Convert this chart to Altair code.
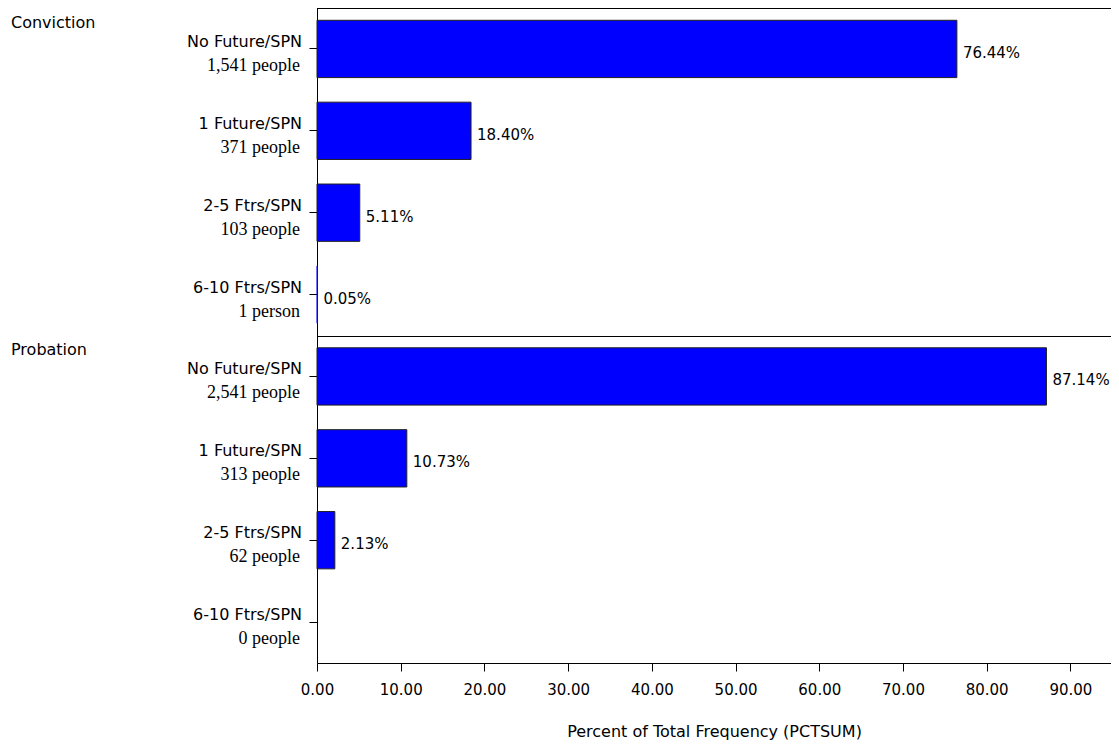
import altair as alt
import pandas as pd

# ---- data ----
groups = ["Conviction"] * 4 + ["Probation"] * 4
categories = ["No Future/SPN", "1 Future/SPN", "2-5 Ftrs/SPN", "6-10 Ftrs/SPN"] * 2
percents = [76.44, 18.40, 5.11, 0.05, 87.14, 10.73, 2.13, 0.00]
people = [1541, 371, 103, 1, 2541, 313, 62, 0]
x_ticks = [0, 10, 20, 30, 40, 50, 60, 70, 80, 90]

rows = []
for g, c, p, n in zip(groups, categories, percents, people):
    rows.append({
        "key": f"{g} | {c}",
        "group": g,
        "cat": c,
        "pct": p,
        "n": n,
        "count_label": f"{n:,} " + ("person" if n == 1 else "people"),
        "value_label": f"{p:.2f}%",
        "first": c == categories[0],
    })
df = pd.DataFrame(rows)
keys = list(df["key"])

W, H = 794, 655
XMAX = 94.85

SANS = "DejaVu Sans"
SERIF = "Liberation Serif"

y_enc = alt.Y(
    "key:N",
    sort=keys,
    scale=alt.Scale(paddingInner=0.3, paddingOuter=0.15),
    axis=alt.Axis(labels=False, title=None, domainColor="black", tickColor="black",
                  tickSize=8, domainWidth=1, tickWidth=1, grid=False),
)
x_scale = alt.Scale(domain=[0, XMAX], nice=False, zero=True)
x_axis = alt.Axis(
    values=x_ticks, format=".2f", title="Percent of Total Frequency (PCTSUM)",
    labelFont=SANS, labelFontSize=15, labelColor="black", labelPadding=11,
    labelFlush=False, labelOverlap=False,
    tickSize=8, tickColor="black", domainColor="black", grid=False,
    titleFont=SANS, titleFontSize=16, titleFontWeight="normal", titleColor="black",
    titleBaseline="alphabetic", titleY=73,
)

base = alt.Chart(df)

bars = base.transform_filter("datum.pct > 0").mark_bar(
    color="#0000FF", strokeWidth=1
).encode(
    x=alt.X("pct:Q", scale=x_scale, axis=x_axis),
    y=y_enc,
    stroke=alt.condition("datum.pct < 0.5", alt.value("#0000FF"), alt.value("#202020")),
)

values = base.transform_filter("datum.n > 0").mark_text(
    align="left", baseline="middle", dx=6, dy=4, font=SANS, fontSize=15, color="black"
).encode(
    x=alt.X("pct:Q", scale=x_scale, axis=x_axis),
    y=y_enc,
    text="value_label:N",
)

cat_line1 = base.mark_text(
    align="right", baseline="alphabetic", dy=-2, font=SANS, fontSize=16, color="black"
).encode(
    x=alt.value(-15),
    y=y_enc,
    text="cat:N",
)

cat_line2 = base.mark_text(
    align="right", baseline="alphabetic", dy=22, font=SERIF, fontSize=18, color="black"
).encode(
    x=alt.value(-17),
    y=y_enc,
    text="count_label:N",
)

group_labels = base.transform_filter("datum.first").mark_text(
    align="left", baseline="alphabetic", dy=-21, font=SANS, fontSize=16, color="black"
).encode(
    x=alt.value(-306),
    y=y_enc,
    text="group:N",
)

top_line = base.transform_filter("datum.key == '" + keys[0] + "'").mark_rule(
    color="black", strokeWidth=1
).encode(x=alt.value(0), x2=alt.value(W), y=alt.value(0.5))

divider = base.transform_filter("datum.key == '" + keys[0] + "'").mark_rule(
    color="black", strokeWidth=1
).encode(x=alt.value(0), x2=alt.value(W), y=alt.value(round(H / 2) + 0.5))

chart = alt.layer(
    bars, values, cat_line1, cat_line2, group_labels, top_line, divider
).properties(
    width=W, height=H,
    autosize=alt.AutoSizeParams(type="none"),
    padding={"left": 309, "top": 0, "right": 0, "bottom": 79},
).configure_view(stroke=None).configure_axis(grid=False)

chart.save("out.html", embed_options={"renderer": "svg", "actions": False})
